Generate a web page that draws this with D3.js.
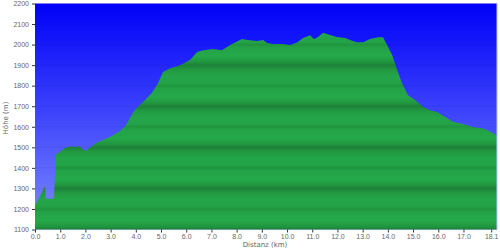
<!DOCTYPE html>
<html>
<head>
<meta charset="utf-8">
<script src="https://cdn.jsdelivr.net/npm/d3@7"></script>
<style>
  body { margin: 0; background: #fff; }
  svg { display: block; font-family: "DejaVu Sans", Verdana, sans-serif; }
  .axis text { fill: #666; font-size: 7px; }
  .axis line { stroke: #333; }
  .axis path { display: none; }
  .label { fill: #666; font-size: 7px; }
</style>
</head>
<body>
<div id="chart"></div>
<script>
// distance (km) and elevation (m)
const distances = [0.0, 0.4, 0.42, 0.75, 0.83, 1.0, 1.2, 1.4, 1.6, 1.75, 1.85, 2.0, 2.2, 2.4, 2.58, 2.8, 3.0,
  3.37, 3.6, 3.89, 4.1, 4.29, 4.64, 4.88, 5.08, 5.36, 5.75, 6.15, 6.43, 6.67, 7.06, 7.42, 7.74, 8.21,
  8.45, 8.81, 9.05, 9.21, 9.44, 9.84, 10.12, 10.4, 10.63, 10.91, 11.07, 11.23, 11.43, 11.71, 11.98,
  12.3, 12.58, 12.78, 13.02, 13.29, 13.61, 13.81, 13.97, 14.17, 14.37, 14.56, 14.8, 15.08, 15.4,
  15.67, 15.95, 16.27, 16.59, 16.98, 17.38, 17.78, 18.1, 18.33];
const elevations = [1215, 1310, 1250, 1250, 1465, 1480, 1498, 1505, 1500, 1508, 1495, 1482, 1500, 1520, 1530, 1542, 1552,
  1580, 1605, 1670, 1700, 1720, 1765, 1812, 1866, 1885, 1900, 1925, 1964, 1973, 1978, 1973, 1998, 2027,
  2022, 2017, 2022, 2008, 2003, 2003, 1998, 2010, 2032, 2046, 2027, 2037, 2058, 2047, 2037,
  2032, 2019, 2012, 2012, 2027, 2036, 2036, 1998, 1949, 1876, 1812, 1754, 1730, 1696,
  1681, 1672, 1647, 1625, 1613, 1599, 1592, 1575, 1558];

const xTicks = [0, 1, 2, 3, 4, 5, 6, 7, 8, 9, 10, 11, 12, 13, 14, 15, 16, 17, 18.1];
const yTicks = [1100, 1200, 1300, 1400, 1500, 1600, 1700, 1800, 1900, 2000, 2100, 2200];

const width = 500, height = 252;
const margin = { top: 3.5, right: 3, bottom: 22.5, left: 35 };

const svg = d3.select('#chart')
  .append('svg')
  .attr('width', width)
  .attr('height', height);

const x = d3.scaleLinear()
  .domain([0, 18.33])
  .range([margin.left, width - margin.right]);

const y = d3.scaleLinear()
  .domain([1100, 2200])
  .range([height - margin.bottom, margin.top]);

const defs = svg.append('defs');

// sky gradient
const sky = defs.append('linearGradient')
  .attr('id', 'sky')
  .attr('x1', 0).attr('y1', 0).attr('x2', 0).attr('y2', 1);
sky.append('stop').attr('offset', '0%').attr('stop-color', '#0000f8');
sky.append('stop').attr('offset', '100%').attr('stop-color', '#7f8cff');

// banded green, repeats every 200 m
const ground = defs.append('linearGradient')
  .attr('id', 'ground')
  .attr('gradientUnits', 'userSpaceOnUse')
  .attr('spreadMethod', 'repeat')
  .attr('x1', 0).attr('x2', 0)
  .attr('y1', y(1900)).attr('y2', y(1700));
[
  [0, '#1d8039'], [0.1, '#21983f'], [0.28, '#24a64a'], [0.45, '#23a146'],
  [0.5, '#20943f'], [0.56, '#23a146'], [0.78, '#25a94a'], [0.92, '#21973f'], [1, '#1d8039']
].forEach(([o, c]) => ground.append('stop').attr('offset', o).attr('stop-color', c));

// plot background
svg.append('rect')
  .attr('x', x(0))
  .attr('y', y(2200))
  .attr('width', x(18.33) - x(0))
  .attr('height', y(1100) - y(2200))
  .attr('fill', 'url(#sky)');

// faint grid lines in the sky
svg.append('g')
  .selectAll('line')
  .data(yTicks.slice(1, -1))
  .enter()
  .append('line')
  .attr('x1', x(0))
  .attr('x2', x(18.33))
  .attr('y1', d => y(d))
  .attr('y2', d => y(d))
  .attr('stroke', '#000')
  .attr('stroke-opacity', 0.06);

const points = distances.map((d, i) => ({ d: d, e: elevations[i] }));

const area = d3.area()
  .x(p => x(p.d))
  .y0(y(1100))
  .y1(p => y(p.e));

svg.append('path')
  .datum(points)
  .attr('d', area)
  .attr('fill', 'url(#ground)');

// thin frame on the right
svg.append('line')
  .attr('x1', x(18.33)).attr('x2', x(18.33))
  .attr('y1', y(2200)).attr('y2', y(1100))
  .attr('stroke', '#b8c4ff');

// axes
svg.append('g')
  .attr('class', 'axis')
  .attr('transform', `translate(0,${y(1100)})`)
  .call(d3.axisBottom(x)
    .tickValues(xTicks)
    .tickFormat(d3.format('.1f'))
    .tickSize(3)
    .tickPadding(2));

svg.append('g')
  .attr('class', 'axis')
  .attr('transform', `translate(${x(0)},0)`)
  .call(d3.axisLeft(y)
    .tickValues(yTicks)
    .tickFormat(d3.format('d'))
    .tickSize(3)
    .tickPadding(3));

svg.append('text')
  .attr('class', 'label')
  .attr('x', 265)
  .attr('y', 247)
  .attr('text-anchor', 'middle')
  .text('Distanz  (km)');

svg.append('text')
  .attr('class', 'label')
  .attr('transform', 'translate(8,118) rotate(-90)')
  .attr('text-anchor', 'middle')
  .text('Höhe (m)');
</script>
</body>
</html>
